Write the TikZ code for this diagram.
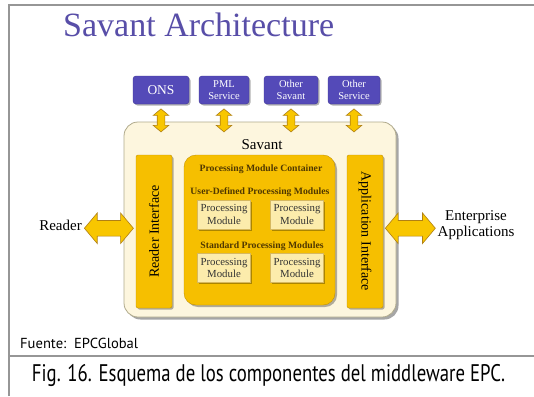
\documentclass[tikz,border=0pt]{standalone}
\usepackage{graphicx}
\usepackage{fontspec}
\setmainfont{Liberation Serif}
\newfontfamily\capfont{PT Sans}
\usetikzlibrary{shapes.arrows,shadows,calc}
\definecolor{titleblue}{RGB}{88,78,168}
\definecolor{boxblue}{RGB}{84,74,184}
\definecolor{boxblueedge}{RGB}{62,54,150}
\definecolor{arrowyellow}{RGB}{248,198,0}
\definecolor{arrowedge}{RGB}{176,128,20}
\definecolor{cream}{RGB}{253,246,222}
\definecolor{creamedge}{RGB}{176,170,140}
\definecolor{gold}{RGB}{246,191,0}
\definecolor{goldedge}{RGB}{196,146,0}
\definecolor{pmfill}{RGB}{252,236,172}
\definecolor{pmedge}{RGB}{214,184,96}
\definecolor{darktext}{RGB}{80,56,0}
\definecolor{framegray}{RGB}{150,150,150}
\begin{document}
\begin{tikzpicture}[x=1pt,y=-1pt,
  svc/.style={draw=boxblueedge, fill=boxblue, rounded corners=3pt, text=white,
    minimum height=28pt, inner sep=0pt, align=center,
    font=\fontsize{10.5}{12.5}\selectfont,
    drop shadow={shadow xshift=1.5pt, shadow yshift=-1.5pt, fill=black, opacity=0.3}},
  fatarrow/.style={double arrow, draw=arrowedge, fill=arrowyellow,
    double arrow tip angle=100, inner xsep=0pt, line width=0.6pt},
  vbar/.style={draw=goldedge, fill=gold, minimum width=153pt, minimum height=36pt,
    rounded corners=2pt, inner sep=0pt, font=\fontsize{14}{16}\selectfont,
    drop shadow={shadow xshift=1.5pt, shadow yshift=-1.5pt, fill=black, opacity=0.3}},
  pm/.style={draw=pmedge, fill=pmfill, minimum width=53pt, minimum height=29pt,
    inner sep=0pt, align=center, text=black!80,
    font=\fontsize{10.8}{12.8}\selectfont,
    drop shadow={shadow xshift=1.5pt, shadow yshift=-1.5pt, fill=black, opacity=0.3}},
  lbl/.style={font=\bfseries\fontsize{9.7}{11}\selectfont, text=darktext, inner sep=0pt},
  framel/.style={draw=framegray, line width=2pt},
]
\useasboundingbox (0,0) rectangle (534,396);
\fill[white] (0,0) rectangle (534,396);

% frame
\draw[framel] (8.5,396) -- (8.5,5) -- (534,5);
\draw[framel] (8.5,356) -- (534,356);

% title
\node[anchor=base west, text=titleblue, font=\fontsize{34}{40}\selectfont, inner sep=0pt]
  (title) at (63,37) {Savant Architecture};

% Savant box
\node[draw=creamedge, fill=cream, rounded corners=14pt, minimum width=272pt,
  minimum height=195pt, inner sep=0pt, line width=0.8pt,
  drop shadow={shadow xshift=2.5pt, shadow yshift=-2.5pt, fill=black, opacity=0.35}]
  (savant) at (260,219.5) {};
\node[font=\fontsize{15}{17}\selectfont, inner sep=0pt] (savlbl) at (262,145) {Savant};

% service boxes
\node[svc, minimum width=56pt, font=\fontsize{13.5}{15}\selectfont] (ons) at (161,90) {ONS};
\node[svc, minimum width=50pt] (pml) at (224,90) {PML\\Service};
\node[svc, minimum width=54pt] (osav) at (291,90) {Other\\Savant};
\node[svc, minimum width=52pt] (oserv) at (354,90) {Other\\Service};

% vertical arrows
\foreach \n in {ons,pml,osav,oserv}{
  \path (\n.south) -- ($(\n.south |- savant.north)+(0,15)$)
    node[midway, sloped, fatarrow, minimum height=23pt, inner ysep=3.5pt,
      double arrow head extend=4pt] {};
}

% interfaces
\node[vbar, rotate=90] (rif) at (154,231.5) {Reader Interface};
\node[vbar, rotate=-90] (aif) at (365,231.5) {Application Interface};

% processing module container
\node[draw=goldedge, fill=gold, rounded corners=12pt, minimum width=151pt,
  minimum height=150pt, inner sep=0pt,
  drop shadow={shadow xshift=2pt, shadow yshift=-2pt, fill=black, opacity=0.3}]
  (pmc) at (259.5,230) {};
\node[lbl] (pmcl) at (261,169) {Processing Module Container};
\node[lbl] (udl) at (260,192) {User-Defined Processing Modules};
\node[pm] (pm1) at (224,214.5) {Processing\\Module};
\node[pm] (pm2) at (297,214.5) {Processing\\Module};
\node[lbl] (stl) at (262,246) {Standard Processing Modules};
\node[pm] (pm3) at (224,268) {Processing\\Module};
\node[pm] (pm4) at (297,268) {Processing\\Module};

% side labels
\node[font=\fontsize{15}{17}\selectfont, inner sep=0pt, anchor=east] (reader) at (82,225) {Reader};
\node[align=center, font=\fontsize{15}{16}\selectfont, inner sep=0pt] (ent) at (476,225)
  {Enterprise\\Applications};

% horizontal arrows
\path (reader.east) -- (rif.north)
  node[midway, fatarrow, minimum height=49pt, inner ysep=7.5pt,
    double arrow head extend=7.5pt] {};
\path (aif.north) -- (ent.west)
  node[midway, fatarrow, minimum height=50pt, inner ysep=7.5pt,
    double arrow head extend=7.5pt] {};

% source and caption
\node[anchor=base west, inner sep=0pt, font=\capfont\fontsize{14.5}{16}\selectfont]
  (src) at (20,348) {\resizebox{118pt}{\height}{Fuente:\ \ EPCGlobal}};
\node[anchor=base, inner sep=0pt, font=\capfont\fontsize{24}{26}\selectfont]
  (cap) at (268.5,381) {\resizebox{473pt}{\height}{Fig. 16. Esquema de los componentes del middleware EPC.}};
\end{tikzpicture}
\end{document}
